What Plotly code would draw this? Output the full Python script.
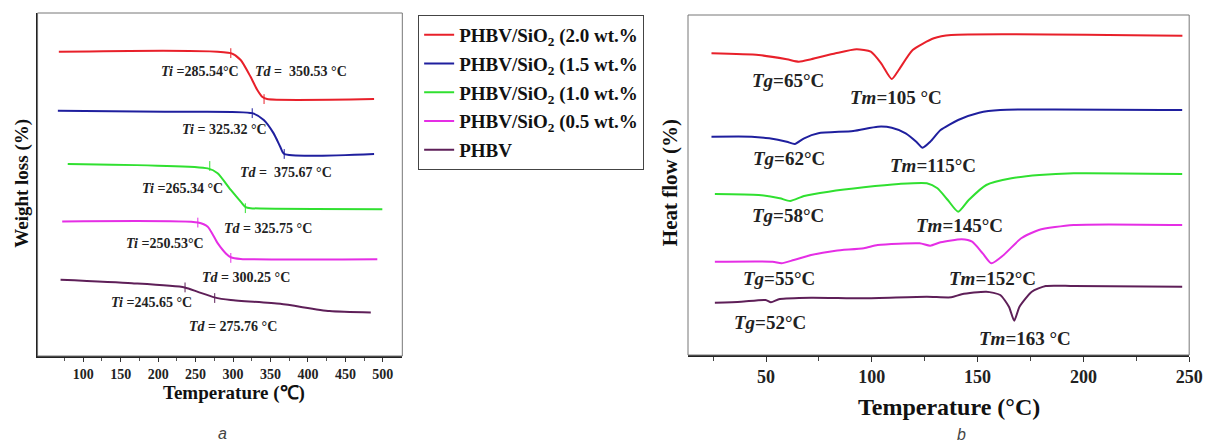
import plotly.graph_objects as go

W, H = 1218, 448
SERIF = "Liberation Serif"

names = ["PHBV/SiO<sub>2</sub> (2.0 wt.%", "PHBV/SiO<sub>2</sub> (1.5 wt.%",
         "PHBV/SiO<sub>2</sub> (1.0 wt.%", "PHBV/SiO<sub>2</sub> (0.5 wt.%", "PHBV"]
colors = ["#e8202a", "#1f1f9e", "#30e030", "#e52ee5", "#5e1f58"]

# ---- Panel a : TGA (weight loss, arbitrary offset units 0-100) ----
tga_red_T = [67.4, 297.0, 310.2, 323.4, 332.2, 338.8, 345.4, 488.3]
tga_red_W = [88.7, 88.3, 86.3, 81.4, 77.6, 75.6, 74.9, 74.9]
tga_blue_T = [66.1, 209.0, 325.6, 341.0, 354.2, 363.0, 368.3, 488.3]
tga_blue_W = [71.5, 71.2, 70.8, 68.8, 64.9, 61.0, 58.9, 58.9]
tga_green_T = [79.3, 266.2, 279.4, 297.0, 310.2, 316.8, 323.4, 499.3]
tga_green_W = [56.0, 54.7, 53.3, 48.4, 45.0, 43.4, 43.1, 42.8]
tga_mag_T = [71.9, 253.0, 266.2, 279.4, 290.4, 297.0, 310.2, 492.6]
tga_mag_W = [39.2, 38.9, 37.7, 32.9, 29.9, 28.8, 28.3, 28.2]
tga_pur_T = [69.7, 165.0, 235.4, 253.0, 275.0, 297.0, 363.0, 428.9, 483.9]
tga_pur_W = [22.2, 21.2, 20.0, 18.7, 17.1, 16.3, 15.2, 13.1, 12.7]

# Ti / Td marks on the curves
ti_T = [297.0, 325.6, 268.9, 253.0, 235.9]
ti_W = [88.3, 70.8, 55.4, 38.9, 20.0]
td_T = [341.4, 368.3, 316.4, 297.0, 275.5]
td_W = [74.9, 58.9, 43.1, 28.6, 16.9]

tga_labels = [
    ("<i>Ti</i> =285.54°C", 255.7, 82.8), ("<i>Td</i> =  350.53 °C", 390.2, 82.8),
    ("<i>Ti</i> = 325.32 °C", 288.7, 65.9), ("<i>Td</i> =  375.67 °C", 370.4, 53.4),
    ("<i>Ti</i> =265.34 °C", 231.9, 48.7), ("<i>Td</i> = 325.75 °C", 346.7, 37.3),
    ("<i>Ti</i> =250.53°C", 209.5, 32.9), ("<i>Td</i> = 300.25 °C", 317.7, 23.0),
    ("<i>Ti</i> =245.65 °C", 191.0, 15.5), ("<i>Td</i> = 275.76 °C", 300.5, 8.7),
]
tga_xticks = [100, 150, 200, 250, 300, 350, 400, 450, 500]
tga_minor = [75, 125, 175, 225, 275, 325, 375, 425, 475]

# ---- Panel b : DSC (heat flow, arbitrary offset units) ----
dsc_red_T = [24.2, 46.5, 59.8, 65.5, 71.3, 82.9, 92.8, 99.5, 104.4, 109.4, 112.7, 119.3, 129.3, 137.5, 246.8]
dsc_red_H = [301.7, 300.0, 295.7, 293.3, 295.7, 301.7, 305.7, 303.3, 291.7, 276.0, 285.0, 305.0, 316.7, 320.0, 319.3]
dsc_blue_T = [24.2, 43.2, 51.5, 59.8, 63.6, 68.0, 74.7, 91.2, 102.8, 109.4, 116.0, 121.0, 124.0, 127.6, 132.5, 140.8, 150.7, 160.7, 246.7]
dsc_blue_H = [218.3, 218.3, 216.7, 213.3, 211.0, 216.7, 221.7, 224.0, 228.3, 227.3, 221.7, 213.3, 207.3, 213.3, 225.0, 235.0, 242.3, 245.0, 245.0]
dsc_green_T = [25.8, 46.5, 56.5, 61.4, 68.0, 79.6, 96.2, 112.7, 126.0, 131.0, 135.9, 140.8, 145.8, 154.1, 166.0, 179.2, 195.4, 246.7]
dsc_green_H = [161.0, 160.0, 156.7, 154.0, 159.0, 163.3, 167.7, 171.0, 171.7, 166.7, 155.0, 143.3, 155.0, 170.0, 176.7, 180.0, 181.7, 181.0]
dsc_mag_T = [25.8, 53.1, 57.3, 63.1, 71.3, 82.9, 96.2, 102.8, 122.6, 127.6, 132.5, 142.5, 147.4, 152.4, 156.5, 162.3, 170.6, 178.9, 195.4, 246.7]
dsc_mag_H = [93.3, 93.3, 91.7, 95.0, 100.0, 104.3, 106.7, 110.0, 111.7, 109.3, 112.7, 115.7, 113.3, 101.7, 91.7, 100.0, 116.7, 125.0, 130.0, 130.0]
dsc_pur_T = [25.8, 38.2, 49.8, 52.3, 56.5, 71.3, 96.2, 126.0, 137.5, 142.5, 154.1, 160.7, 164.8, 167.3, 169.8, 175.6, 182.2, 195.4, 246.7]
dsc_pur_H = [52.3, 53.3, 55.0, 52.7, 56.0, 57.3, 56.7, 58.3, 57.7, 60.7, 63.3, 60.0, 48.3, 34.3, 48.3, 63.3, 69.0, 69.0, 68.3]

dsc_labels = [
    ("<i>Tg</i>=65°C", 60.4, 275), ("<i>Tm</i>=105 °C", 111.5, 258),
    ("<i>Tg</i>=62°C", 60.9, 197), ("<i>Tm</i>=115°C", 128.9, 190),
    ("<i>Tg</i>=58°C", 60.4, 140), ("<i>Tm</i>=145°C", 141.3, 130),
    ("<i>Tg</i>=55°C", 56.0, 77), ("<i>Tm</i>=152°C", 157.2, 77),
    ("<i>Tg</i>=52°C", 52.0, 33), ("<i>Tm</i>=163 °C", 172.3, 17),
]
dsc_xticks = [50, 100, 150, 200, 250]
dsc_minor = [25, 75, 125, 175, 225]

tga = [(tga_red_T, tga_red_W), (tga_blue_T, tga_blue_W), (tga_green_T, tga_green_W),
       (tga_mag_T, tga_mag_W), (tga_pur_T, tga_pur_W)]
dsc = [(dsc_red_T, dsc_red_H), (dsc_blue_T, dsc_blue_H), (dsc_green_T, dsc_green_H),
       (dsc_mag_T, dsc_mag_H), (dsc_pur_T, dsc_pur_H)]

fig = go.Figure()
for i, (x, y) in enumerate(tga):
    fig.add_trace(go.Scatter(x=x, y=y, mode="lines", name=names[i], legendgroup=str(i),
                             line=dict(color=colors[i], width=2, shape="spline", smoothing=0.6),
                             xaxis="x", yaxis="y"))
for i in range(5):
    fig.add_trace(go.Scatter(x=[ti_T[i], td_T[i]], y=[ti_W[i], td_W[i]], mode="markers",
                             showlegend=False, xaxis="x", yaxis="y",
                             marker=dict(symbol="line-ns-open", size=7, color=colors[i],
                                         line=dict(color=colors[i], width=1))))
for i, (x, y) in enumerate(dsc):
    fig.add_trace(go.Scatter(x=x, y=y, mode="lines", showlegend=False,
                             line=dict(color=colors[i], width=2, shape="spline", smoothing=0.6),
                             xaxis="x2", yaxis="y2"))

def px(v):
    return v / W

def py(v):
    return 1 - v / H

C = dict(xanchor="center", yanchor="middle", showarrow=False)
ann = []
for t, x, y in tga_labels:
    ann.append(dict(text=t, x=x, y=y, xref="x", yref="y", **C,
                    font=dict(family=SERIF, size=14, color="#222", weight="bold")))
for t, x, y in dsc_labels:
    ann.append(dict(text=t, x=x, y=y, xref="x2", yref="y2", **C,
                    font=dict(family=SERIF, size=19, color="#222", weight="bold")))
ann += [
    dict(text="Temperature (℃)", x=px(237), y=py(393), xref="paper", yref="paper", **C,
         font=dict(family=SERIF, size=19, color="#111", weight="bold")),
    dict(text="Weight loss (%)", x=px(22), y=py(183), xref="paper", yref="paper", **C,
         textangle=-90, font=dict(family=SERIF, size=19, color="#111", weight="bold")),
    dict(text="Temperature (°C)", x=px(960), y=py(407), xref="paper", yref="paper", **C,
         font=dict(family=SERIF, size=24, color="#111", weight="bold")),
    dict(text="Heat flow (%)", x=px(678), y=py(183), xref="paper", yref="paper", **C,
         textangle=-90, font=dict(family=SERIF, size=21, color="#111", weight="bold")),
    dict(text="<i>a</i>", x=px(225), y=py(433), xref="paper", yref="paper", **C,
         font=dict(family="Liberation Sans", size=16, color="#444")),
    dict(text="<i>b</i>", x=px(973), y=py(434), xref="paper", yref="paper", **C,
         font=dict(family="Liberation Sans", size=16, color="#444")),
]

shapes = [
    dict(type="rect", xref="x domain", yref="y domain", x0=0, x1=1, y0=0, y1=1,
         line=dict(color="#777", width=1)),
    dict(type="rect", xref="x2 domain", yref="y2 domain", x0=0, x1=1, y0=0, y1=1,
         line=dict(color="#777", width=1)),
]

axcommon = dict(showgrid=False, zeroline=False)
fig.update_layout(
    width=W, height=H, autosize=False, margin=dict(l=0, r=0, t=0, b=0),
    paper_bgcolor="white", plot_bgcolor="white",
    xaxis=dict(domain=[px(38), px(407)], range=[39, 526], anchor="y",
               tickmode="array", tickvals=tga_xticks, ticks="outside", ticklen=4,
               tickcolor="#333", showline=True, linecolor="#222", linewidth=1.5,
               tickfont=dict(family=SERIF, size=14, color="#222", weight="bold"),
               minor=dict(tickmode="array", tickvals=tga_minor, ticks="outside", ticklen=3, tickcolor="#555"),
               **axcommon),
    yaxis=dict(domain=[py(356), py(13)], range=[0, 100], anchor="x", showticklabels=False,
               ticks="", showline=True, linecolor="#222", linewidth=1.5, **axcommon),
    xaxis2=dict(domain=[px(696), px(1203)], range=[13.1, 250.0], anchor="y2",
                tickmode="array", tickvals=dsc_xticks, ticks="outside", ticklen=5,
                tickcolor="#333", showline=True, linecolor="#222", linewidth=1.5,
                tickfont=dict(family=SERIF, size=18, color="#222", weight="bold"),
                minor=dict(tickmode="array", tickvals=dsc_minor, ticks="outside", ticklen=4, tickcolor="#444"),
                **axcommon),
    yaxis2=dict(domain=[py(355), py(15)], range=[0, 340], anchor="x2", showticklabels=False,
                ticks="", showline=False, **axcommon),
    legend=dict(x=px(423), y=py(15), xanchor="left", yanchor="top",
                bordercolor="#444", borderwidth=1, bgcolor="white",
                font=dict(family=SERIF, size=19, color="#111", weight="bold"),
                traceorder="grouped", tracegroupgap=1, itemwidth=30),
    annotations=ann, shapes=shapes,
)

fig.write_html(
    "out.html",
    config={"responsive": False, "displayModeBar": False},
    post_script="document.documentElement.style.overflow='hidden';"
                "document.body.style.margin='0';document.body.style.overflow='hidden';",
)
